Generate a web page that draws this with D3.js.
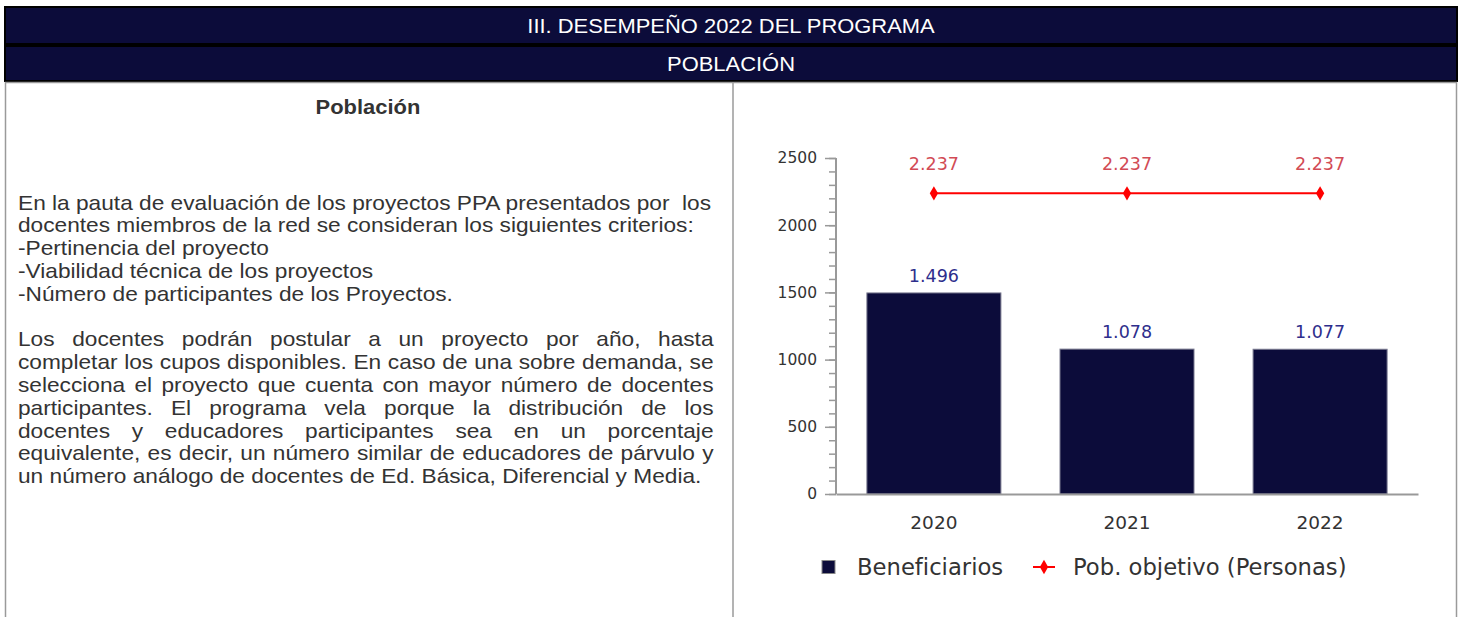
<!DOCTYPE html>
<html lang="es">
<head>
<meta charset="utf-8">
<title>Población</title>
<script src="https://cdn.jsdelivr.net/npm/d3@7"></script>
<style>
  html, body { margin: 0; padding: 0; background: #fff; }
  #page { position: relative; width: 1460px; height: 617px; overflow: hidden; }
  #page svg { position: absolute; left: 0; top: 0; }
  .line {
    position: absolute;
    left: 18px;
    width: 644px;
    font-family: "Liberation Sans", Arial, sans-serif;
    font-size: 21px;
    line-height: 22.8px;
    height: 22.8px;
    color: #333;
    white-space: pre;
    transform: scaleX(1.08);
    transform-origin: 0 50%;
  }
  .just { text-align: justify; text-align-last: justify; white-space: normal; }
</style>
</head>
<body>
<div id="page"></div>
<script>
// data
const years = ["2020", "2021", "2022"];
const beneficiarios = [1496, 1078, 1077];
const objetivo = [2237, 2237, 2237];
const yTicks = [0, 500, 1000, 1500, 2000, 2500];

const para1 = [
  "En la pauta de evaluación de los proyectos PPA presentados por  los",
  "docentes miembros de la red se consideran los siguientes criterios:",
  "-Pertinencia del proyecto",
  "-Viabilidad técnica de los proyectos",
  "-Número de participantes de los Proyectos."
];
const para2 = [
  "Los docentes podrán postular a un proyecto por año, hasta",
  "completar los cupos disponibles. En caso de una sobre demanda, se",
  "selecciona el proyecto que cuenta con mayor número de docentes",
  "participantes. El programa vela porque la distribución de los",
  "docentes y educadores participantes sea en un porcentaje",
  "equivalente, es decir, un número similar de educadores de párvulo y",
  "un número análogo de docentes de Ed. Básica, Diferencial y Media."
];

const navy = "#0c0c3a";
const W = 1460, H = 617;

const page = d3.select("#page");
const svg = page.append("svg").attr("width", W).attr("height", H);

// header bands
const bands = [
  {y: 7, h: 37, text: "III. DESEMPEÑO 2022 DEL PROGRAMA"},
  {y: 46, h: 35, text: "POBLACIÓN"}
];
svg.selectAll("rect.band")
  .data(bands)
  .enter()
  .append("rect")
  .attr("class", "band")
  .attr("x", 5).attr("y", d => d.y)
  .attr("width", 1452).attr("height", d => d.h)
  .attr("fill", navy)
  .attr("stroke", "#000").attr("stroke-width", 2);
svg.selectAll("text.band")
  .data(bands)
  .enter()
  .append("text")
  .attr("class", "band")
  .attr("x", 731).attr("y", d => d.y + d.h / 2 + 7.5)
  .attr("text-anchor", "middle")
  .attr("font-family", "Liberation Sans, Arial, sans-serif")
  .attr("font-size", 20.5)
  .attr("transform", "translate(731,0) scale(1.07,1) translate(-731,0)")
  .attr("fill", "#fff")
  .text(d => d.text);

// body box
svg.append("rect")
  .attr("x", 5.5).attr("y", 82.5).attr("width", 1451).attr("height", 560)
  .attr("fill", "none").attr("stroke", "#9a9a9a").attr("stroke-width", 1.5);
svg.append("line")
  .attr("x1", 733).attr("x2", 733).attr("y1", 82).attr("y2", H)
  .attr("stroke", "#9a9a9a").attr("stroke-width", 1.5);

// left text
svg.append("text")
  .attr("x", 368).attr("y", 114)
  .attr("text-anchor", "middle")
  .attr("font-family", "Liberation Sans, Arial, sans-serif")
  .attr("font-size", 20.5).attr("font-weight", "bold")
  .attr("transform", "translate(368,0) scale(1.07,1) translate(-368,0)")
  .attr("fill", "#333")
  .text("Población");

const lineH = 22.8;
const firstCenter = 203;
page.selectAll("div.p1")
  .data(para1)
  .enter()
  .append("div")
  .attr("class", "line p1")
  .style("top", (d, i) => (firstCenter + i * lineH - lineH / 2) + "px")
  .text(d => d);
page.selectAll("div.p2")
  .data(para2)
  .enter()
  .append("div")
  .attr("class", (d, i) => i < para2.length - 1 ? "line p2 just" : "line p2")
  .style("top", (d, i) => (firstCenter + (i + 6) * lineH - lineH / 2) + "px")
  .text(d => d);

// chart
const fmt = d3.formatLocale({decimal: ",", thousands: ".", grouping: [3], currency: ["$", ""]}).format(",d");

const x = d3.scaleBand()
  .domain(years)
  .range([836, 1418])
  .paddingInner(0.306)
  .paddingOuter(0.16);
const y = d3.scaleLinear()
  .domain([0, 2500])
  .range([494, 158]);

const chartFont = "DejaVu Sans, Verdana, sans-serif";
const g = svg.append("g");

g.selectAll("rect.bar")
  .data(beneficiarios)
  .enter()
  .append("rect")
  .attr("class", "bar")
  .attr("x", (d, i) => x(years[i]))
  .attr("y", d => y(d))
  .attr("width", x.bandwidth())
  .attr("height", d => y(0) - y(d))
  .attr("fill", navy)
  .attr("stroke", "#7a7a90").attr("stroke-width", 1);

// axes
const yAxis = d3.axisLeft(y).tickValues(yTicks).tickSize(11).tickPadding(8).tickFormat(d3.format("d"));
const yMinor = d3.axisLeft(y).tickValues(d3.range(0, 2501, 100)).tickSize(7).tickFormat("");

const minorG = g.append("g").attr("transform", "translate(836,0)").call(yMinor);
const yG = g.append("g").attr("transform", "translate(836,0)").call(yAxis);
[minorG, yG].forEach(a => {
  a.select(".domain").remove();
  a.selectAll(".tick line").attr("stroke", "#999").attr("stroke-width", 1.5);
});
yG.selectAll(".tick text")
  .attr("font-family", chartFont).attr("font-size", 15.5).attr("fill", "#333");
g.append("line")
  .attr("x1", 836).attr("x2", 836).attr("y1", y(2500)).attr("y2", y(0))
  .attr("stroke", "#999").attr("stroke-width", 2);

const xAxis = d3.axisBottom(x).tickSize(0).tickPadding(22);
const xG = g.append("g").attr("transform", "translate(0," + y(0) + ")").call(xAxis);
xG.select(".domain").attr("stroke", "#999").attr("stroke-width", 2);
xG.selectAll(".tick text")
  .attr("font-family", chartFont).attr("font-size", 18.5).attr("fill", "#333");

// target line
const cx = d => x(d) + x.bandwidth() / 2;
const line = d3.line().x((d, i) => cx(years[i])).y(d => y(d));
g.append("path")
  .datum(objetivo)
  .attr("d", line)
  .attr("fill", "none")
  .attr("stroke", "#ff0000").attr("stroke-width", 2);
const diamond = d3.symbol().type(d3.symbolDiamond).size(60);
g.selectAll("path.pt")
  .data(objetivo)
  .enter()
  .append("path")
  .attr("class", "pt")
  .attr("d", diamond)
  .attr("transform", (d, i) => "translate(" + cx(years[i]) + "," + y(d) + ")")
  .attr("fill", "#ff0000");

// value labels
g.selectAll("text.vb")
  .data(beneficiarios)
  .enter()
  .append("text")
  .attr("class", "vb")
  .attr("x", (d, i) => cx(years[i]))
  .attr("y", d => y(d) - 11)
  .attr("text-anchor", "middle")
  .attr("font-family", chartFont).attr("font-size", 17.5)
  .attr("fill", "#2e2e8c")
  .text(d => fmt(d));
g.selectAll("text.vo")
  .data(objetivo)
  .enter()
  .append("text")
  .attr("class", "vo")
  .attr("x", (d, i) => cx(years[i]))
  .attr("y", d => y(d) - 23)
  .attr("text-anchor", "middle")
  .attr("font-family", chartFont).attr("font-size", 17.5)
  .attr("fill", "#d24b55")
  .text(d => fmt(d));

// legend
const leg = g.append("g").attr("transform", "translate(0,567)");
leg.append("rect")
  .attr("x", 822).attr("y", -6.5).attr("width", 13).attr("height", 13)
  .attr("fill", navy).attr("stroke", "#888").attr("stroke-width", 1);
leg.append("text")
  .attr("x", 857).attr("y", 7.8)
  .attr("font-family", chartFont).attr("font-size", 22.7).attr("fill", "#333")
  .text("Beneficiarios");
leg.append("line")
  .attr("x1", 1033).attr("x2", 1055).attr("y1", 0).attr("y2", 0)
  .attr("stroke", "#ff0000").attr("stroke-width", 2);
leg.append("path")
  .attr("d", diamond)
  .attr("transform", "translate(1044,0)")
  .attr("fill", "#ff0000");
leg.append("text")
  .attr("x", 1073).attr("y", 7.8)
  .attr("font-family", chartFont).attr("font-size", 22.7).attr("fill", "#333")
  .text("Pob. objetivo (Personas)");
</script>
</body>
</html>
